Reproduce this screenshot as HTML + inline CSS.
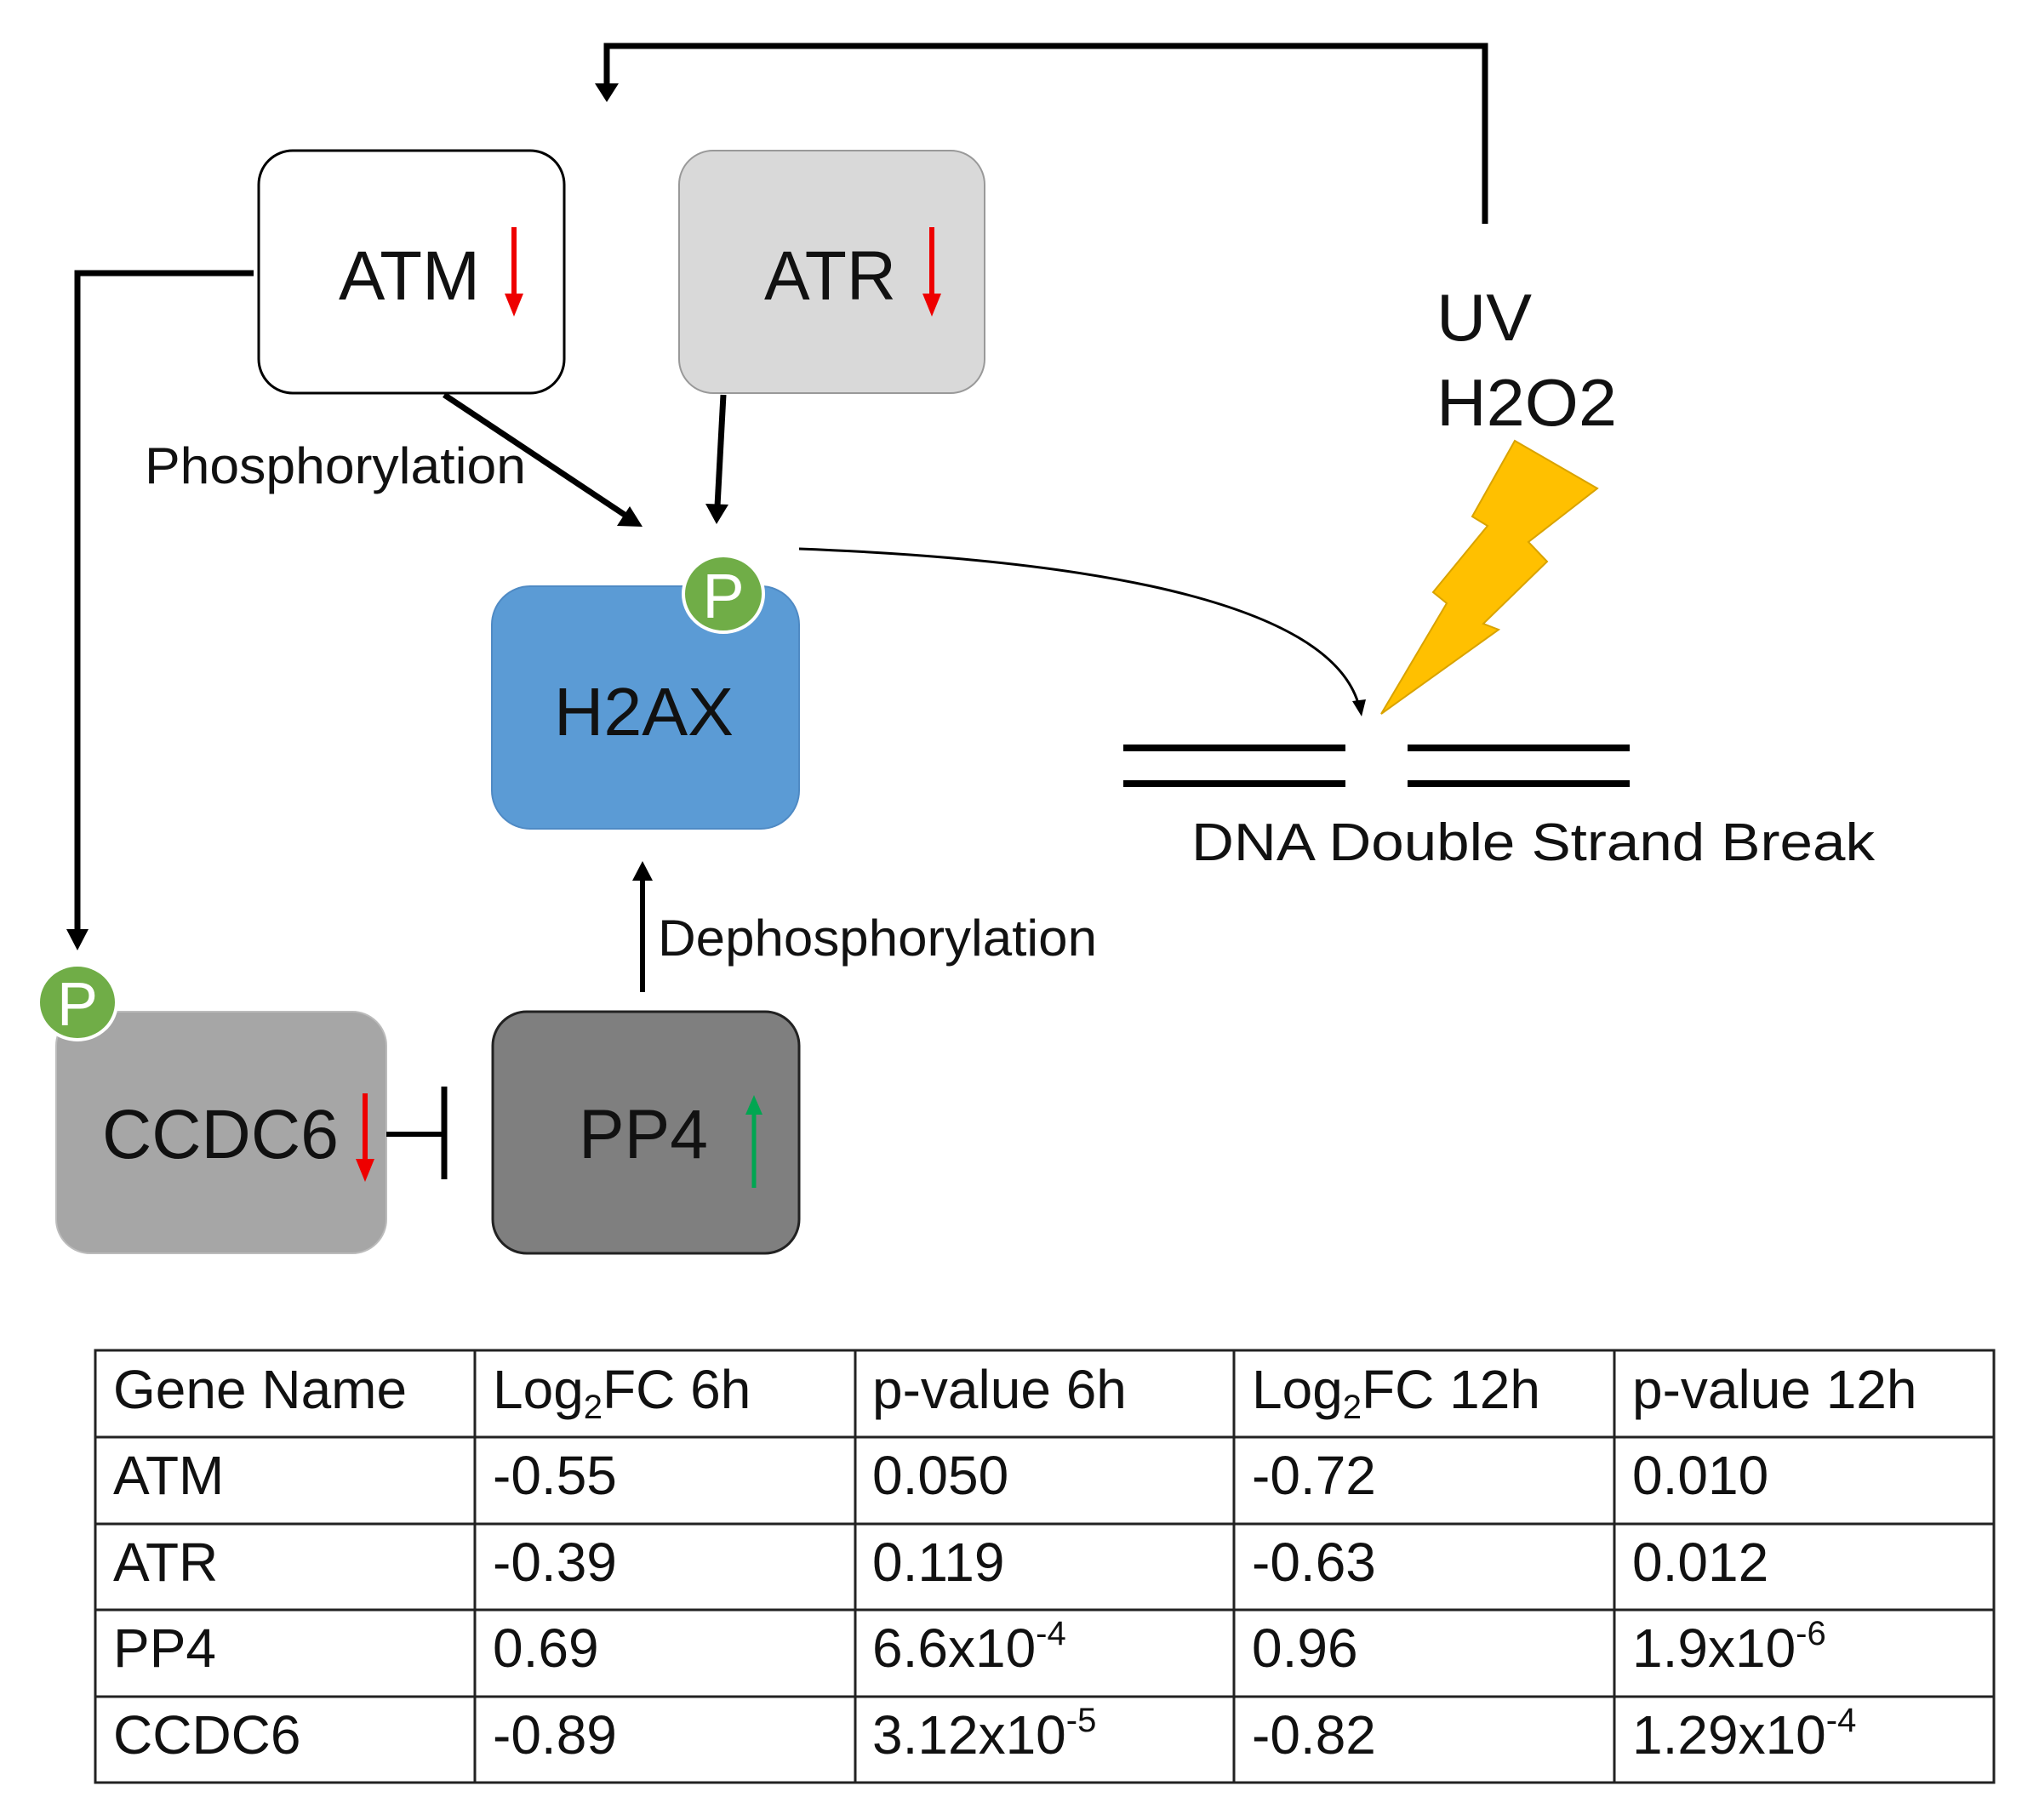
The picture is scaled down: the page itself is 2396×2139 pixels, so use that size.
<!DOCTYPE html>
<html><head><meta charset="utf-8"><style>
html,body{margin:0;padding:0;background:#fff}
svg{display:block}
text{font-family:"Liberation Sans",Arial,sans-serif;fill:#111}
</style></head><body>
<svg width="2396" height="2139" viewBox="0 0 2396 2139" xmlns="http://www.w3.org/2000/svg">
<!-- top feedback line -->
<polyline points="713,104 713,54 1745,54 1745,263" fill="none" stroke="#000" stroke-width="7"/>
<polygon points="699,98 727,98 713,120" fill="#000"/>

<!-- ATM box -->
<rect x="304" y="177" width="359" height="285" rx="40" fill="#fff" stroke="#000" stroke-width="3"/>
<text x="398" y="352" font-size="82" textLength="166" lengthAdjust="spacingAndGlyphs">ATM</text>
<line x1="604" y1="267" x2="604" y2="352" stroke="#e00" stroke-width="6"/>
<polygon points="593,345 615,345 604,372" fill="#e00"/>

<!-- ATR box -->
<rect x="798" y="177" width="359" height="285" rx="40" fill="#d9d9d9" stroke="#999" stroke-width="2"/>
<text x="898" y="352" font-size="82" textLength="155" lengthAdjust="spacingAndGlyphs">ATR</text>
<line x1="1095" y1="267" x2="1095" y2="352" stroke="#e00" stroke-width="6"/>
<polygon points="1084,345 1106,345 1095,372" fill="#e00"/>

<!-- ATM left line to CCDC6 -->
<polyline points="298,321 91,321 91,1095" fill="none" stroke="#000" stroke-width="7"/>
<polygon points="78,1092 104,1092 91,1117" fill="#000"/>

<!-- Phosphorylation -->
<text x="170" y="568" font-size="60" textLength="448" lengthAdjust="spacingAndGlyphs">Phosphorylation</text>
<line x1="522" y1="464" x2="737" y2="607" stroke="#000" stroke-width="7"/>
<polygon points="755,619 725,618 740,595" fill="#000"/>
<line x1="850" y1="464" x2="843" y2="595" stroke="#000" stroke-width="7"/>
<polygon points="829,592 856,593 842,616" fill="#000"/>

<!-- H2AX -->
<rect x="578" y="689" width="361" height="285" rx="45" fill="#5b9bd5" stroke="#4f8ac4" stroke-width="2"/>
<text x="651" y="864" font-size="80" textLength="211" lengthAdjust="spacingAndGlyphs">H2AX</text>
<ellipse cx="850" cy="698" rx="47" ry="45" fill="#70ad47" stroke="#fff" stroke-width="4"/>
<text x="850" y="726" font-size="74" text-anchor="middle" style="fill:#fff">P</text>

<!-- curve to DNA -->
<path d="M939,645 C1200,655 1560,690 1597,830" fill="none" stroke="#000" stroke-width="3"/>
<polygon points="1589,824 1605,822 1600,842" fill="#000"/>

<!-- UV H2O2 -->
<text x="1688" y="400" font-size="78" textLength="112" lengthAdjust="spacingAndGlyphs">UV</text>
<text x="1688" y="500" font-size="78" textLength="212" lengthAdjust="spacingAndGlyphs">H2O2</text>

<!-- bolt -->
<polygon points="1780,518 1877,574 1796,637 1818,660 1743,733 1761,740 1623,839 1700,709 1684,696 1748,618 1730,607" fill="#ffc000" stroke="#d9a300" stroke-width="2"/>

<!-- DNA -->
<g stroke="#000" stroke-width="8">
<line x1="1320" y1="879" x2="1581" y2="879"/>
<line x1="1320" y1="921" x2="1581" y2="921"/>
<line x1="1654" y1="879" x2="1915" y2="879"/>
<line x1="1654" y1="921" x2="1915" y2="921"/>
</g>
<text x="1400" y="1011" font-size="62" textLength="803" lengthAdjust="spacingAndGlyphs">DNA Double Strand Break</text>

<!-- CCDC6 -->
<rect x="66" y="1189" width="388" height="284" rx="40" fill="#a6a6a6" stroke="#bbb" stroke-width="2"/>
<text x="120" y="1361" font-size="82" textLength="278" lengthAdjust="spacingAndGlyphs">CCDC6</text>
<line x1="429" y1="1285" x2="429" y2="1368" stroke="#e00" stroke-width="6"/>
<polygon points="418,1362 440,1362 429,1389" fill="#e00"/>
<ellipse cx="91" cy="1178" rx="46" ry="44" fill="#70ad47" stroke="#fff" stroke-width="4"/>
<text x="91" y="1205" font-size="72" text-anchor="middle" style="fill:#fff">P</text>

<!-- inhibit -->
<line x1="454" y1="1333" x2="522" y2="1333" stroke="#000" stroke-width="6"/>
<line x1="522" y1="1277" x2="522" y2="1386" stroke="#000" stroke-width="7"/>

<!-- PP4 -->
<rect x="579" y="1189" width="360" height="284" rx="40" fill="#7f7f7f" stroke="#222" stroke-width="3"/>
<text x="680" y="1361" font-size="82" textLength="152" lengthAdjust="spacingAndGlyphs">PP4</text>
<line x1="886" y1="1305" x2="886" y2="1396" stroke="#00a651" stroke-width="5"/>
<polygon points="876,1310 896,1310 886,1287" fill="#00a651"/>

<!-- dephos arrow -->
<line x1="755" y1="1166" x2="755" y2="1030" stroke="#000" stroke-width="6"/>
<polygon points="743,1035 767,1035 755,1012" fill="#000"/>
<text x="773" y="1123" font-size="60" textLength="516" lengthAdjust="spacingAndGlyphs">Dephosphorylation</text>

<!-- table -->
<g stroke="#222" stroke-width="3" fill="none">
<rect x="112" y="1587" width="2231" height="508"/>
<line x1="112" y1="1689" x2="2343" y2="1689"/>
<line x1="112" y1="1791" x2="2343" y2="1791"/>
<line x1="112" y1="1892" x2="2343" y2="1892"/>
<line x1="112" y1="1994" x2="2343" y2="1994"/>
<line x1="558" y1="1587" x2="558" y2="2095"/>
<line x1="1005" y1="1587" x2="1005" y2="2095"/>
<line x1="1450" y1="1587" x2="1450" y2="2095"/>
<line x1="1897" y1="1587" x2="1897" y2="2095"/>
</g>
<g font-size="64">
<text x="133" y="1655">Gene Name</text>
<text x="579" y="1655">Log<tspan font-size="40" dy="12">2</tspan><tspan dy="-12">FC 6h</tspan></text>
<text x="1025" y="1655">p-value 6h</text>
<text x="1471" y="1655">Log<tspan font-size="40" dy="12">2</tspan><tspan dy="-12">FC 12h</tspan></text>
<text x="1918" y="1655">p-value 12h</text>

<text x="133" y="1756">ATM</text>
<text x="579" y="1756">-0.55</text>
<text x="1025" y="1756">0.050</text>
<text x="1471" y="1756">-0.72</text>
<text x="1918" y="1756">0.010</text>

<text x="133" y="1858">ATR</text>
<text x="579" y="1858">-0.39</text>
<text x="1025" y="1858">0.119</text>
<text x="1471" y="1858">-0.63</text>
<text x="1918" y="1858">0.012</text>

<text x="133" y="1959">PP4</text>
<text x="579" y="1959">0.69</text>
<text x="1025" y="1959">6.6x10<tspan font-size="40" dy="-26">-4</tspan></text>
<text x="1471" y="1959">0.96</text>
<text x="1918" y="1959">1.9x10<tspan font-size="40" dy="-26">-6</tspan></text>

<text x="133" y="2061">CCDC6</text>
<text x="579" y="2061">-0.89</text>
<text x="1025" y="2061">3.12x10<tspan font-size="40" dy="-26">-5</tspan></text>
<text x="1471" y="2061">-0.82</text>
<text x="1918" y="2061">1.29x10<tspan font-size="40" dy="-26">-4</tspan></text>
</g>
</svg>
</body></html>
